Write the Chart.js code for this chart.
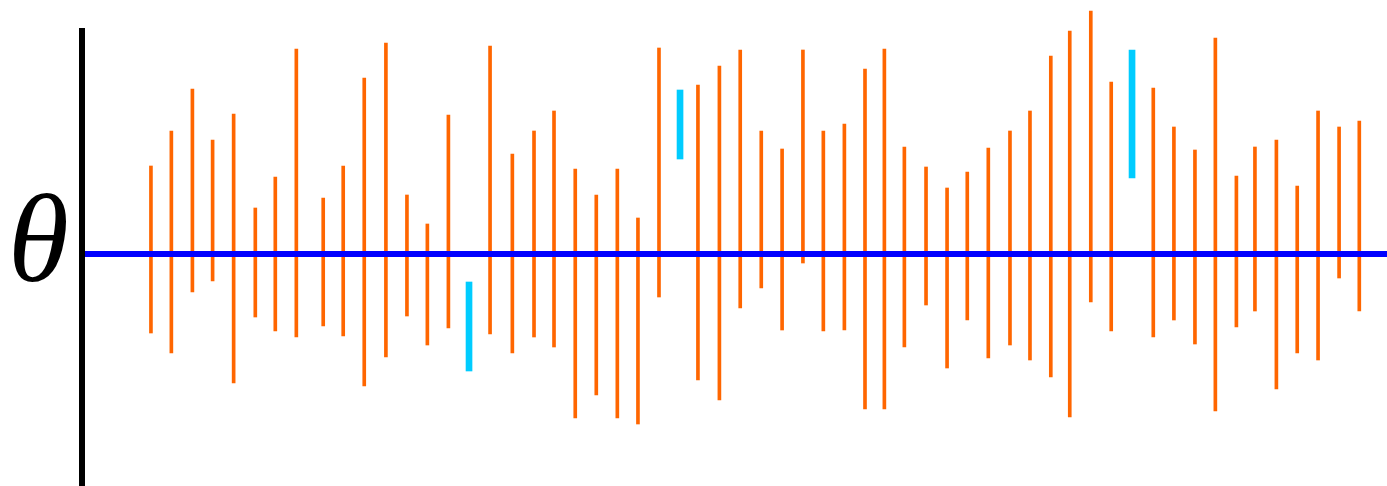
<!DOCTYPE html>
<html>
<head>
<meta charset="utf-8">
<script src="https://cdn.jsdelivr.net/npm/chart.js@4/dist/chart.umd.min.js"></script>
<style>
  html, body { margin: 0; padding: 0; background: #ffffff; }
  #wrap { width: 1387px; height: 486px; }
</style>
</head>
<body>
<div id="wrap"><canvas id="c" width="1387" height="486"></canvas></div>
<script>
// Trial positions (horizontal) of each confidence interval
const trialX = [3.31, 4.29, 5.30, 6.27, 7.28, 8.32, 9.28, 10.29, 11.58, 12.54,
  13.55, 14.59, 15.60, 16.58, 17.59, 18.58, 19.59, 20.66, 21.70, 22.66,
  23.68, 24.69, 25.70, 26.69, 27.70, 28.71, 29.57, 30.60, 31.60, 32.61,
  33.61, 34.61, 35.59, 36.60, 37.59, 38.52, 39.48, 40.52, 41.53, 42.50,
  43.51, 44.55, 45.51, 46.51, 47.42, 48.43, 49.41, 50.41, 51.43, 52.42,
  53.43, 54.41, 55.42, 56.31, 57.34, 58.34, 59.34, 60.35, 61.32];
// Upper bounds of the intervals (relative to theta = 0)
const upper = [0.88, 1.23, 1.65, 1.14, 1.40, 0.46, 0.77, 2.05, 0.56, 0.88,
  1.76, 2.11, 0.59, 0.30, 1.39, -0.28, 2.08, 1.00, 1.23, 1.43,
  0.85, 0.59, 0.85, 0.36, 2.06, 1.64, 1.69, 1.88, 2.04, 1.23,
  1.05, 2.04, 1.23, 1.30, 1.85, 2.05, 1.07, 0.87, 0.66, 0.82,
  1.06, 1.23, 1.43, 1.98, 2.23, 2.43, 1.72, 2.04, 1.66, 1.27,
  1.04, 2.16, 0.78, 1.07, 1.14, 0.68, 1.43, 1.27, 1.33];
// Lower bounds of the intervals
const lower = [-0.79, -0.99, -0.38, -0.27, -1.29, -0.63, -0.77, -0.83, -0.72, -0.82,
  -1.32, -1.03, -0.62, -0.91, -0.74, -1.17, -0.80, -0.99, -0.83, -0.93,
  -1.64, -1.41, -1.64, -1.70, -0.43, 0.95, -1.26, -1.46, -0.54, -0.34,
  -0.76, -0.09, -0.77, -0.76, -1.55, -1.55, -0.93, -0.51, -1.14, -0.66,
  -1.04, -0.91, -1.06, -1.23, -1.63, -0.48, -0.77, 0.76, -0.83, -0.66,
  -0.90, -1.57, -0.73, -0.57, -1.35, -0.99, -1.06, -0.24, -0.57];
const theta = 0;
const thetaLabel = 'θ';

const covers = [], misses = [];
trialX.forEach((x, i) => {
  const pt = { x: x, y: [lower[i], upper[i]] };
  if (lower[i] <= theta && upper[i] >= theta) covers.push(pt); else misses.push(pt);
});

const xMin = 0, xMax = 62.65, yMin = -2.32, yMax = 2.54, axisTop = 2.26;

const decor = {
  id: 'decor',
  afterDatasetsDraw(chart) {
    const { ctx, scales } = chart;
    const x0 = scales.x.getPixelForValue(xMin);
    ctx.save();
    ctx.strokeStyle = '#000000';
    ctx.lineWidth = 6;
    ctx.beginPath();
    ctx.moveTo(x0, scales.y.getPixelForValue(axisTop));
    ctx.lineTo(x0, scales.y.getPixelForValue(yMin));
    ctx.stroke();
    ctx.fillStyle = '#000000';
    ctx.font = 'italic 124px "Liberation Serif", "DejaVu Serif", serif';
    ctx.textAlign = 'right';
    ctx.textBaseline = 'middle';
    ctx.fillText(thetaLabel, x0 - 13, scales.y.getPixelForValue(theta) - 6);
    ctx.restore();
  }
};

new Chart(document.getElementById('c'), {
  type: 'bar',
  data: {
    datasets: [
      {
        type: 'line',
        label: 'theta',
        data: [{ x: xMin, y: theta }, { x: xMax, y: theta }],
        borderColor: '#0000ff',
        borderWidth: 6,
        pointRadius: 0,
        order: 0
      },
      {
        label: 'covers',
        data: covers,
        backgroundColor: '#ff6600',
        borderWidth: 0,
        barThickness: 3,
        grouped: false,
        order: 1
      },
      {
        label: 'misses',
        data: misses,
        backgroundColor: '#00ccff',
        borderWidth: 0,
        barThickness: 6,
        grouped: false,
        order: 1
      }
    ]
  },
  options: {
    responsive: false,
    animation: false,
    layout: { padding: { left: 82, right: 0, top: 0, bottom: 0 } },
    plugins: { legend: { display: false }, tooltip: { enabled: false } },
    scales: {
      x: { type: 'linear', min: xMin, max: xMax, offset: false, display: false },
      y: { type: 'linear', min: yMin, max: yMax, display: false }
    }
  },
  plugins: [decor]
});
</script>
</body>
</html>
